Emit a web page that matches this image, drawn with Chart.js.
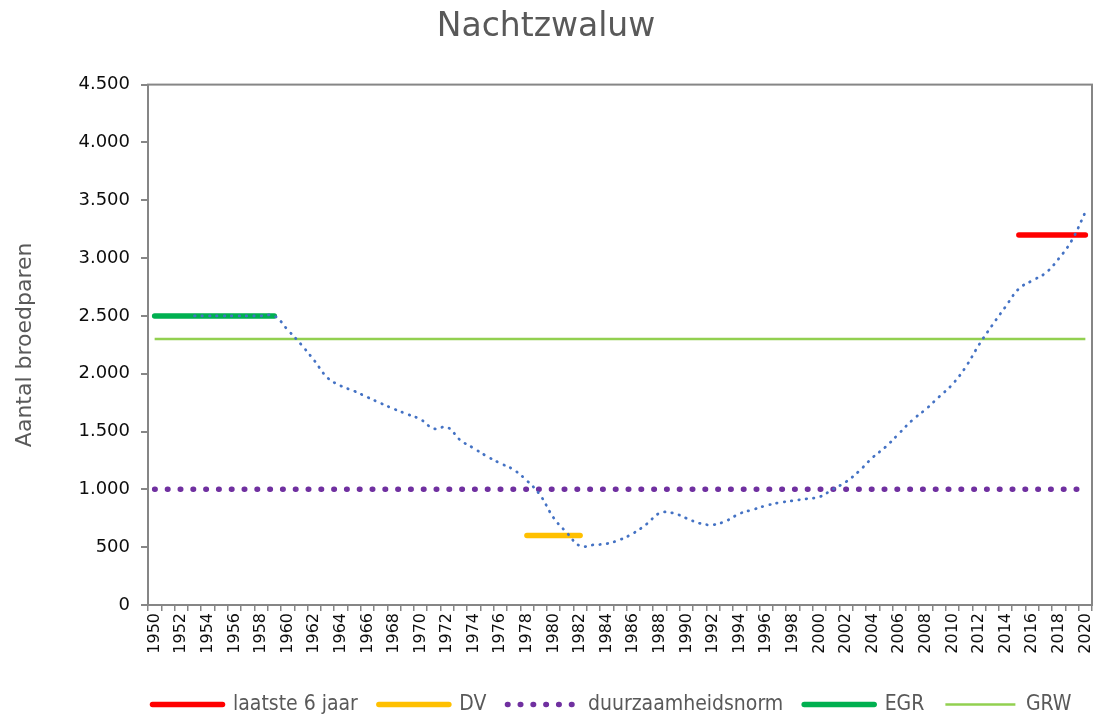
<!DOCTYPE html>
<html lang="nl">
<head>
  <meta charset="UTF-8" />
  <title>Nachtzwaluw</title>
  <script src="https://cdn.jsdelivr.net/npm/chart.js"></script>
  <style>
    html, body { margin: 0; padding: 0; background: #fff; overflow: hidden; }
    #wrap { width: 1120px; height: 715px; }
  </style>
</head>
<body>
  <div id="wrap"><canvas id="chart" width="1120" height="715"></canvas></div>

  <script>
    const years = [
      '1950','1951','1952','1953','1954','1955','1956','1957','1958','1959',
      '1960','1961','1962','1963','1964','1965','1966','1967','1968','1969',
      '1970','1971','1972','1973','1974','1975','1976','1977','1978','1979',
      '1980','1981','1982','1983','1984','1985','1986','1987','1988','1989',
      '1990','1991','1992','1993','1994','1995','1996','1997','1998','1999',
      '2000','2001','2002','2003','2004','2005','2006','2007','2008','2009',
      '2010','2011','2012','2013','2014','2015','2016','2017','2018','2019',
      '2020'
    ];

    // trend (blauwe stippellijn), per jaar
    const trend = [
      null, null, null, 2500, 2500, 2500, 2500, 2500, 2500, 2500,
      2380, 2255, 2115, 1965, 1895, 1850, 1797, 1745, 1695, 1650,
      1605, 1525, 1538, 1425, 1355, 1285, 1225, 1170, 1075, 950,
      755, 625, 510, 520, 530, 565, 620, 700, 795, 795,
      750, 706, 694, 728, 790, 825, 860, 885, 902, 918,
      935, 1000, 1065, 1160, 1275, 1370, 1485, 1600, 1693, 1800,
      1908, 2058, 2250, 2420, 2580, 2735, 2805, 2870, 2995, 3157,
      3397
    ];

    // referentielijnen
    const refNames  = ['laatste 6 jaar', 'DV', 'duurzaamheidsnorm', 'EGR', 'GRW'];
    const refValues = [3200, 600, 1000, 2500, 2300];
    const refFrom   = ['2015', '1978', '1950', '1950', '1950'];
    const refTo     = ['2020', '1982', '2020', '1959', '2020'];

    const refColors = ['#FF0000', '#FFC000', '#7030A0', '#00B050', '#92D050'];
    const refWidths = [5.5, 5.5, 5.5, 5.5, 2.5];
    const refDashes = [[], [], [0.5, 12.3], [], []];

    function refData(i) {
      const a = years.indexOf(refFrom[i]);
      const b = years.indexOf(refTo[i]);
      return years.map((y, k) => (k >= a && k <= b) ? refValues[i] : null);
    }

    function nlNumber(v) {
      return String(v).replace(/\B(?=(\d{3})+(?!\d))/g, '.');
    }

    const datasets = [{
      label: 'trend',
      data: trend,
      borderColor: '#4472C4',
      borderWidth: 2.75,
      borderDash: [0.5, 6.9],
      borderCapStyle: 'round',
      tension: 0.4,
      pointRadius: 0,
      order: 0
    }];
    refNames.forEach((name, i) => {
      datasets.push({
        label: name,
        data: refData(i),
        borderColor: refColors[i],
        backgroundColor: refColors[i],
        borderWidth: refWidths[i],
        borderDash: refDashes[i],
        borderCapStyle: refWidths[i] > 3 ? 'round' : 'butt',
        pointRadius: 0,
        tension: 0,
        order: i + 1
      });
    });

    const frame = {
      id: 'frame',
      beforeDatasetsDraw(chart) {
        const {ctx, chartArea: a} = chart;
        ctx.save();
        ctx.strokeStyle = '#868686';
        ctx.lineWidth = 2;
        ctx.strokeRect(a.left, a.top, a.right - a.left, a.bottom - a.top);
        ctx.restore();
      }
    };

    // legenda staat in het origineel wat naar rechts
    const legendShift = {
      id: 'legendShift',
      afterLayout(chart) {
        chart.legend.left += 66;
        chart.legend.right += 66;
      }
    };

    new Chart(document.getElementById('chart'), {
      type: 'line',
      data: { labels: years, datasets: datasets },
      plugins: [frame, legendShift],
      options: {
        responsive: false,
        animation: false,
        layout: { padding: { left: 0, right: 28, top: 0, bottom: -10 } },
        plugins: {
          title: {
            display: true,
            text: 'Nachtzwaluw',
            color: '#595959',
            font: { family: 'DejaVu Sans', size: 33, weight: 'normal' },
            padding: { top: 8, bottom: 37 }
          },
          legend: {
            position: 'bottom',
            labels: {
              usePointStyle: true,
              pointStyleWidth: 70,
              color: '#595959',
              font: { family: 'DejaVu Sans Condensed, DejaVu Sans', size: 21 },
              padding: 21,
              generateLabels: chart => chart.data.datasets.map((ds, i) => ({
                text: ds.label,
                datasetIndex: i,
                strokeStyle: ds.borderColor,
                fillStyle: ds.borderColor,
                lineWidth: ds.borderWidth,
                lineDash: ds.borderDash,
                lineCap: ds.borderCapStyle,
                pointStyle: 'line',
                fontColor: '#595959',
                hidden: false
              })),
              filter: item => item.datasetIndex !== 0
            }
          },
          tooltip: { enabled: false }
        },
        scales: {
          x: {
            offset: true,
            grid: { offset: true, drawOnChartArea: false, tickLength: 6, color: '#868686', lineWidth: 1.5 },
            border: { color: '#868686', width: 2 },
            ticks: {
              autoSkip: false,
              minRotation: 90,
              maxRotation: 90,
              padding: 2,
              color: '#0d0d0d',
              font: { family: 'DejaVu Sans', size: 16 },
              callback: (v, i) => i % 2 === 0 ? years[i] : ''
            },
            afterFit: s => { s.height = 68; }
          },
          y: {
            min: 0,
            max: 4500,
            grid: { drawOnChartArea: false, tickLength: 7, color: '#868686', lineWidth: 2 },
            border: { color: '#868686', width: 2 },
            ticks: {
              stepSize: 500,
              padding: 11,
              color: '#0d0d0d',
              font: { family: 'DejaVu Sans', size: 18 },
              callback: v => nlNumber(v)
            },
            title: {
              display: true,
              text: 'Aantal broedparen',
              color: '#595959',
              font: { family: 'DejaVu Sans', size: 22 },
              padding: { top: 12, bottom: 0 }
            },
            afterFit: s => { s.width = 148; }
          }
        }
      }
    });
  </script>
</body>
</html>
